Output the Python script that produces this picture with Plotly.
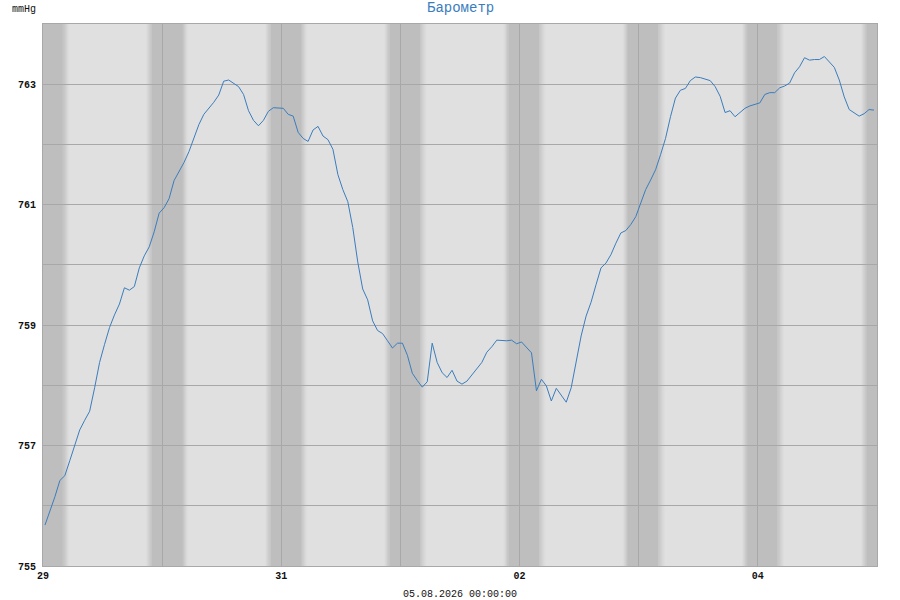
import plotly.graph_objects as go
import pandas as pd

# ---- data ----
start_time = "2026-07-29 00:24"
pressure = [
    755.68, 755.90, 756.15, 756.42, 756.50, 756.75, 757.00, 757.26, 757.42, 757.57,
    757.96, 758.38, 758.68, 758.96, 759.17, 759.35, 759.62, 759.58, 759.64, 759.95,
    760.15, 760.30, 760.55, 760.86, 760.95,
    761.10, 761.40, 761.55, 761.70, 761.88, 762.10, 762.33, 762.50, 762.60, 762.70,
    762.82, 763.05, 763.07, 763.01, 762.96, 762.83, 762.56, 762.40, 762.31, 762.40,
    762.55, 762.61, 762.61,
    762.60, 762.50, 762.47, 762.20, 762.10, 762.05, 762.24, 762.30, 762.14, 762.08,
    761.92, 761.50, 761.25, 761.05, 760.62, 760.05, 759.60, 759.42, 759.07, 758.91,
    758.86, 758.74, 758.62, 758.70,
    758.70, 758.50, 758.20, 758.08, 757.97, 758.06, 758.70, 758.38, 758.21, 758.13,
    758.25, 758.07, 758.02, 758.07, 758.18, 758.27, 758.38, 758.55, 758.64, 758.75,
    758.74, 758.74, 758.75, 758.69,
    758.72, 758.63, 758.54, 757.91, 758.10, 757.99, 757.74, 757.95, 757.84, 757.72,
    757.96, 758.40, 758.82, 759.15, 759.38, 759.67, 759.95, 760.03, 760.17, 760.36,
    760.53, 760.57, 760.67, 760.80,
    761.03, 761.25, 761.41, 761.58, 761.83, 762.10, 762.46, 762.77, 762.90, 762.93,
    763.06, 763.12, 763.11, 763.09, 763.06, 762.96, 762.80, 762.53, 762.56, 762.46,
    762.53, 762.60, 762.64, 762.66,
    762.69, 762.83, 762.86, 762.86, 762.94, 762.97, 763.02, 763.19, 763.29, 763.44,
    763.40, 763.41, 763.41, 763.46, 763.37, 763.28, 763.07, 762.79, 762.58, 762.52,
    762.47, 762.51, 762.58, 762.57,
]
times = pd.date_range(start_time, periods=len(pressure), freq="h")

day_ticks = pd.date_range("2026-07-29", "2026-08-05", freq="D")
day_labels = ["29", "", "31", "", "02", "", "04", ""]
y_ticks = [755, 756, 757, 758, 759, 760, 761, 762, 763, 764]
y_labels = ["755", "", "757", "", "759", "", "761", "", "763", ""]
nights = pd.date_range("2026-07-28", "2026-08-04", freq="D")

title_text = "Барометр"
unit_text = "mmHg"
end_text = "05.08.2026 00:00:00"

# ---- style ----
FONT = "Liberation Mono"
LIGHT = (224, 224, 224)
DARK = (190, 190, 190)


def blend(t):
    c = [round(LIGHT[i] + (DARK[i] - LIGHT[i]) * t) for i in range(3)]
    return "rgb(%d,%d,%d)" % tuple(c)


shapes = []
steps = 6
for d in nights:
    dusk0 = d + pd.Timedelta(hours=20, minutes=45)
    dusk1 = d + pd.Timedelta(hours=21, minutes=50)
    dawn0 = d + pd.Timedelta(days=1, hours=4, minutes=0)
    dawn1 = d + pd.Timedelta(days=1, hours=5, minutes=15)
    for i in range(steps):
        a = dusk0 + (dusk1 - dusk0) * i / steps
        b = dusk0 + (dusk1 - dusk0) * (i + 1) / steps
        shapes.append(dict(type="rect", xref="x", yref="paper", x0=a, x1=b, y0=0, y1=1,
                           fillcolor=blend((i + 0.5) / steps), line_width=0, layer="below"))
    shapes.append(dict(type="rect", xref="x", yref="paper", x0=dusk1, x1=dawn0, y0=0, y1=1,
                       fillcolor=blend(1.0), line_width=0, layer="below"))
    for i in range(steps):
        a = dawn0 + (dawn1 - dawn0) * i / steps
        b = dawn0 + (dawn1 - dawn0) * (i + 1) / steps
        shapes.append(dict(type="rect", xref="x", yref="paper", x0=a, x1=b, y0=0, y1=1,
                           fillcolor=blend(1 - (i + 0.5) / steps), line_width=0, layer="below"))

fig = go.Figure()
fig.add_trace(go.Scatter(x=times, y=pressure, mode="lines",
                         line=dict(color="#3a7dbd", width=1), showlegend=False))

fig.update_layout(
    width=900, height=600,
    margin=dict(l=43, r=23, t=24, b=34),
    paper_bgcolor="white",
    plot_bgcolor="rgb(224,224,224)",
    shapes=shapes,
    font=dict(family=FONT, size=10, color="#111"),
    xaxis=dict(
        range=[day_ticks[0], day_ticks[-1]],
        tickmode="array", tickvals=day_ticks, ticktext=day_labels,
        showgrid=True, gridcolor="#a8a8a8", gridwidth=1,
        showline=True, linecolor="#a8a8a8", mirror=True,
        ticks="", zeroline=False,
        tickfont=dict(family=FONT, size=10, color="#111", weight="bold"),
    ),
    yaxis=dict(
        range=[755, 764],
        tickmode="array", tickvals=y_ticks, ticktext=y_labels,
        showgrid=True, gridcolor="#a8a8a8", gridwidth=1,
        showline=True, linecolor="#a8a8a8", mirror=True,
        ticks="", zeroline=False, ticklabelstandoff=4,
        tickfont=dict(family=FONT, size=10, color="#111", weight="bold"),
    ),
    annotations=[
        dict(text=title_text, xref="paper", yref="paper", x=0.5, y=1 + 16 / 542,
             xanchor="center", yanchor="middle", showarrow=False,
             font=dict(family=FONT, size=14, color="#3a7dbd")),
        dict(text=unit_text, xref="paper", yref="paper", x=-33 / 834, y=1 + 15 / 542,
             xanchor="left", yanchor="middle", showarrow=False,
             font=dict(family=FONT, size=10, color="#111")),
        dict(text=end_text, xref="paper", yref="paper", x=0.5, y=-28 / 542,
             xanchor="center", yanchor="middle", showarrow=False,
             font=dict(family=FONT, size=10, color="#111")),
    ],
)

fig.write_html("out.html", config={"displayModeBar": False},
               post_script="document.body.style.margin='0';")
